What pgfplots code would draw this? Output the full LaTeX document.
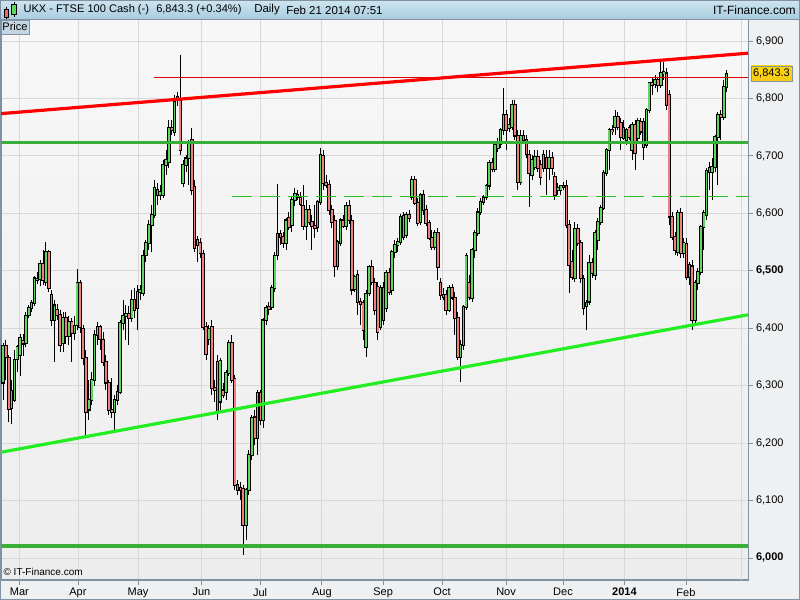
\documentclass[border=0pt]{standalone}
\usepackage{fontspec}
\setmainfont{Liberation Sans}
\usepackage{pgfplots}
\usepackage{pgfplotstable}
\pgfplotsset{compat=1.18}
\definecolor{upcol}{RGB}{96,214,96}
\definecolor{dncol}{RGB}{238,128,128}
\definecolor{framecol}{RGB}{128,146,162}
\definecolor{panelcol}{RGB}{238,240,242}
\definecolor{gridcol}{RGB}{216,216,216}
\definecolor{hzgreen}{RGB}{56,176,56}
\definecolor{limegreen}{RGB}{34,238,34}
\definecolor{dashgreen}{RGB}{40,190,40}
\definecolor{hdtop}{RGB}{206,228,240}
\definecolor{hdbot}{RGB}{166,204,222}
\definecolor{pricebox}{RGB}{250,200,20}
\definecolor{pricelbl}{RGB}{196,214,228}

\pgfplotstableread{
i o h l c
0 6305 6374 6275 6369
1 6369 6380 6310 6350
2 6348 6353 6237 6259
3 6261 6310 6233 6292
4 6275 6362 6272 6345
5 6346 6371 6324 6367
6 6353 6390 6317 6383
7 6378 6390 6352 6373
8 6373 6428 6367 6421
9 6423 6440 6418 6435
10 6435 6449 6428 6444
11 6444 6491 6439 6487
12 6484 6498 6477 6487
13 6486 6519 6473 6512
14 6512 6536 6476 6484
15 6480 6550 6473 6533
16 6533 6536 6463 6470
17 6458 6467 6404 6414
18 6414 6449 6341 6440
19 6432 6442 6414 6423
20 6423 6432 6359 6371
21 6374 6428 6359 6419
22 6418 6428 6373 6386
23 6386 6421 6371 6411
24 6411 6418 6341 6392
25 6392 6421 6380 6405
26 6405 6503 6397 6479
27 6479 6484 6392 6402
28 6400 6405 6336 6348
29 6348 6362 6214 6254
30 6258 6310 6240 6275
31 6275 6324 6266 6310
32 6310 6397 6299 6388
33 6388 6411 6371 6402
34 6402 6405 6362 6380
35 6380 6393 6334 6341
36 6341 6353 6292 6305
37 6305 6310 6249 6258
38 6258 6313 6243 6254
39 6254 6284 6223 6275
40 6275 6301 6266 6289
41 6289 6414 6285 6409
42 6409 6449 6397 6421
43 6421 6440 6380 6426
44 6426 6439 6371 6418
45 6418 6467 6411 6449
46 6449 6470 6418 6432
47 6435 6475 6397 6463
48 6463 6475 6449 6467
49 6461 6536 6456 6527
50 6527 6554 6515 6548
51 6548 6588 6536 6580
52 6580 6614 6533 6597
53 6597 6658 6592 6644
54 6641 6653 6614 6632
55 6632 6649 6623 6637
56 6632 6693 6627 6684
57 6684 6710 6667 6693
58 6689 6762 6679 6749
59 6749 6762 6736 6745
60 6742 6806 6735 6794
61 6797 6811 6787 6803
62 6797 6876 6701 6710
63 6653 6693 6646 6684
64 6684 6702 6672 6696
65 6696 6728 6649 6722
66 6728 6749 6632 6641
67 6646 6658 6533 6540
68 6545 6561 6515 6554
69 6548 6557 6522 6531
70 6529 6536 6397 6402
71 6402 6411 6345 6355
72 6380 6405 6371 6400
73 6402 6414 6284 6296
74 6296 6310 6272 6292
75 6341 6353 6240 6252
76 6272 6348 6258 6343
77 6292 6305 6278 6284
78 6289 6327 6275 6322
79 6322 6380 6317 6374
80 6374 6388 6305 6310
81 6312 6319 6118 6127
82 6127 6136 6110 6118
83 6122 6132 6101 6118
84 6120 6127 6005 6057
85 6057 6122 6031 6118
86 6118 6188 6110 6179
87 6179 6249 6171 6244
88 6245 6258 6197 6209
89 6209 6292 6179 6287
90 6287 6292 6231 6240
91 6240 6418 6226 6414
92 6414 6440 6406 6435
93 6437 6446 6423 6433
94 6437 6475 6432 6470
95 6470 6533 6463 6527
96 6527 6651 6519 6564
97 6564 6571 6545 6559
98 6559 6567 6540 6548
99 6548 6592 6536 6588
100 6592 6602 6571 6576
101 6580 6630 6567 6623
102 6623 6644 6613 6635
103 6632 6641 6623 6628
104 6628 6637 6613 6616
105 6614 6649 6571 6578
106 6578 6623 6554 6606
107 6606 6614 6580 6585
108 6585 6597 6536 6578
109 6578 6614 6557 6574
110 6576 6623 6567 6620
111 6620 6714 6614 6702
112 6700 6710 6641 6653
113 6653 6667 6644 6649
114 6649 6658 6597 6606
115 6606 6614 6574 6585
116 6587 6597 6489 6507
117 6507 6554 6501 6550
118 6548 6592 6543 6588
119 6588 6597 6574 6578
120 6578 6620 6571 6613
121 6614 6623 6581 6588
122 6588 6597 6458 6467
123 6467 6493 6463 6489
124 6493 6501 6423 6446
125 6446 6453 6406 6442
126 6444 6449 6380 6397
127 6366 6467 6350 6460
128 6460 6510 6456 6507
129 6507 6519 6475 6480
130 6480 6487 6423 6432
131 6472 6480 6380 6393
132 6402 6475 6397 6470
133 6470 6480 6406 6414
134 6435 6501 6428 6496
135 6496 6505 6458 6463
136 6466 6536 6458 6533
137 6533 6554 6522 6545
138 6545 6557 6533 6550
139 6550 6599 6545 6594
140 6595 6602 6554 6559
141 6562 6602 6557 6597
142 6597 6606 6585 6592
143 6628 6665 6623 6658
144 6658 6665 6614 6618
145 6618 6627 6578 6583
146 6585 6635 6580 6632
147 6632 6641 6597 6606
148 6606 6614 6578 6583
149 6583 6588 6554 6557
150 6557 6571 6536 6541
151 6541 6571 6536 6567
152 6566 6574 6484 6507
153 6479 6487 6449 6458
154 6458 6470 6449 6454
155 6458 6467 6423 6432
156 6432 6475 6428 6470
157 6470 6477 6449 6453
158 6453 6463 6388 6418
159 6418 6428 6345 6350
160 6350 6380 6306 6371
161 6371 6440 6362 6437
162 6437 6531 6432 6527
163 6480 6493 6449 6454
164 6453 6540 6446 6536
165 6536 6571 6522 6566
166 6566 6609 6560 6602
167 6602 6627 6597 6620
168 6620 6632 6614 6628
169 6628 6651 6623 6648
170 6648 6693 6641 6688
171 6688 6696 6672 6677
172 6677 6722 6672 6719
173 6714 6731 6707 6724
174 6721 6749 6714 6745
175 6745 6818 6736 6771
176 6771 6780 6710 6745
177 6749 6766 6742 6755
178 6750 6797 6745 6789
179 6789 6797 6728 6735
180 6736 6745 6641 6655
181 6655 6745 6649 6736
182 6735 6745 6724 6728
183 6728 6736 6696 6702
184 6702 6710 6611 6670
185 6667 6702 6658 6693
186 6681 6710 6675 6698
187 6698 6710 6672 6679
188 6684 6693 6649 6663
189 6679 6710 6672 6702
190 6696 6710 6632 6679
191 6679 6710 6658 6696
192 6696 6707 6667 6679
193 6663 6672 6623 6632
194 6641 6653 6632 6644
195 6641 6649 6632 6648
196 6648 6655 6641 6646
197 6648 6658 6574 6580
198 6580 6588 6461 6510
199 6515 6536 6484 6489
200 6487 6585 6480 6574
201 6574 6581 6543 6548
202 6548 6554 6479 6487
203 6487 6493 6423 6435
204 6439 6449 6397 6444
205 6446 6527 6440 6514
206 6514 6522 6487 6496
207 6493 6571 6484 6566
208 6554 6592 6536 6585
209 6585 6614 6580 6609
210 6609 6675 6606 6670
211 6670 6714 6665 6710
212 6710 6749 6675 6745
213 6745 6754 6736 6743
214 6750 6780 6736 6768
215 6768 6776 6745 6750
216 6757 6766 6710 6733
217 6749 6762 6728 6731
218 6728 6749 6719 6745
219 6749 6754 6728 6733
220 6710 6759 6693 6754
221 6754 6762 6675 6705
222 6731 6766 6724 6762
223 6759 6766 6736 6742
224 6759 6766 6693 6715
225 6719 6783 6714 6780
226 6780 6829 6775 6827
227 6827 6836 6806 6823
228 6825 6841 6818 6832
229 6832 6837 6811 6823
230 6823 6867 6818 6844
231 6844 6863 6832 6846
232 6844 6853 6780 6789
233 6806 6815 6580 6594
234 6594 6602 6554 6559
235 6559 6567 6527 6536
236 6533 6606 6526 6601
237 6601 6609 6522 6531
238 6531 6557 6522 6548
239 6548 6557 6484 6489
240 6489 6515 6475 6510
241 6508 6519 6397 6414
242 6414 6484 6406 6479
243 6479 6505 6466 6498
244 6498 6580 6493 6576
245 6576 6606 6536 6601
246 6597 6679 6588 6675
247 6679 6689 6641 6672
248 6672 6696 6623 6681
249 6681 6736 6672 6733
250 6733 6776 6649 6771
251 6771 6780 6728 6768
252 6768 6832 6762 6820
253 6820 6850 6811 6843.3
}\candles

\begin{document}
\begin{tikzpicture}[x=1pt,y=1pt]
\fill[panelcol] (0,0) rectangle (600,450);
\shade[top color=hdtop, bottom color=hdbot] (0,435) rectangle (600,450);
\draw[framecol, line width=0.75pt] (0,435) -- (600,435);
\begin{axis}[
  at={(0.75pt,15pt)}, anchor=south west,
  scale only axis, width=560.25pt, height=420pt,
  xmin=-0.7, xmax=260.5, ymin=5961.6, ymax=6936.6,
  axis background/.style={shade, top color=white!97!black, bottom color=white!93!black},
  axis line style={framecol, line width=0.75pt},
  xtick={5.73,26.2,47.2,69.4,89.9,111.5,132.9,153.5,175.9,195.8,217.3,238.8},
  xticklabels={Mar,Apr,May,Jun,Jul,Aug,Sep,Oct,Nov,Dec,\textbf{2014},Feb},
  ytick={6000,6100,6200,6300,6400,6500,6600,6700,6800,6900},
  yticklabels={{\textbf{6,000}},{6,100},{6,200},{6,300},{6,400},{\textbf{6,500}},{6,600},{6,700},{6,800},{6,900}},
  xtick pos=left, ytick pos=right, yticklabel pos=right,
  tick align=outside, major tick length=3.5pt,
  tick style={framecol, line width=0.6pt},
  grid=major, grid style={gridcol, line width=0.6pt},
  ticklabel style={font=\fontsize{8.25}{9}\selectfont},
  yticklabel style={anchor=west, xshift=-1pt},
  xticklabel style={yshift=1pt},
  clip=true,
  cbody/.style={draw=none, mark=none, forget plot, error bars/.cd, y dir=both, y explicit, error mark=none},
]
\draw[gridcol, line width=0.6pt] (axis cs:258.1,5961.6) -- (axis cs:258.1,6936.6);
% wicks
\addplot[cbody, error bar style={draw=black, line width=0.75pt}]
  table[x=i, y expr={(\thisrow{h}+\thisrow{l})/2}, y error expr={(\thisrow{h}-\thisrow{l})/2}] {\candles};
% body outlines
\addplot[cbody, error bar style={draw=black, line width=2.7pt}]
  table[x=i, y expr={(\thisrow{o}+\thisrow{c})/2}, y error expr={abs(\thisrow{c}-\thisrow{o})/2+1.3}] {\candles};
% down bodies
\addplot[cbody, error bar style={draw=dncol, line width=1.3pt}]
  table[x=i, y expr={(\thisrow{o}+\thisrow{c})/2}, y error expr={max(abs(\thisrow{c}-\thisrow{o})/2-0.5,0)}] {\candles};
% up bodies
\addplot[cbody, error bar style={draw=upcol, line width=1.3pt}]
  table[x=i, y expr={(\thisrow{o}+\thisrow{c})/2}, y error expr={(\thisrow{c}>\thisrow{o})*max(abs(\thisrow{c}-\thisrow{o})/2-0.5,0)}] {\candles};
% lines
\addplot[red!85!black, line width=0.75pt] coordinates {(52.8,6837) (260.5,6837)};
\addplot[dashgreen, line width=0.75pt, dash pattern=on 15pt off 6pt] coordinates {(80,6629.6) (260.5,6629.6)};
\addplot[hzgreen, line width=2.6pt] coordinates {(-0.7,6723.7) (260.5,6723.7)};
\addplot[hzgreen, line width=2.6pt] coordinates {(-0.7,6020.8) (260.5,6020.8)};
\addplot[red, line width=2.4pt] coordinates {(-0.7,6773.6) (260.5,6878.8)};
\addplot[limegreen, line width=2.4pt] coordinates {(-0.7,6184) (260.5,6423.3)};
\end{axis}
% price tag
\draw[framecol, line width=0.6pt, top color=pricebox!70!yellow, bottom color=pricebox] (563.25,389) rectangle (594,400.5);
\node[font=\fontsize{8.25}{9}\selectfont, inner sep=0] at (578.6,394.7) {6,843.3};
% header icon
\draw[black, line width=0.5pt] (4.5,435.5) -- (4.5,444.5);
\draw[black, line width=0.5pt, fill=dncol!80!red] (3,437) rectangle (6.5,443);
\draw[black, line width=0.5pt] (10.5,437.5) -- (10.5,448.5);
\draw[black, line width=0.5pt, fill=upcol] (8.5,439) rectangle (12.5,446.5);
% header text
\node[anchor=west, inner sep=0, font=\fontsize{8.3}{10}\selectfont] at (17.5,442.5) {UKX - FTSE 100 Cash (-)};
\node[anchor=west, inner sep=0, font=\fontsize{8.3}{10}\selectfont] at (117,442.5) {6,843.3 (+0.34\%)};
\node[anchor=west, inner sep=0, font=\fontsize{8.6}{10}\selectfont] at (190.5,442.5) {Daily};
\node[anchor=west, inner sep=0, font=\fontsize{8.6}{10}\selectfont] at (214.5,442.5) {Feb 21 2014 07:51};
\node[anchor=east, inner sep=0, font=\fontsize{9}{10}\selectfont] at (597,442.5) {IT-Finance.com};
% Price label
\draw[framecol, line width=0.5pt, fill=pricelbl] (0.75,424.5) rectangle (21.75,435);
\node[inner sep=0, font=\fontsize{8.25}{9}\selectfont] at (11.25,429.75) {Price};
% copyright
\node[anchor=south west, inner sep=0, font=\fontsize{7.5}{8}\selectfont] at (2.5,18) {\textcopyright\ IT-Finance.com};
\draw[framecol, line width=0.75pt] (0.4,0.4) rectangle (599.6,449.6);
\pgfresetboundingbox
\path[use as bounding box] (0,0) rectangle (600,450);
\end{tikzpicture}
\end{document}
